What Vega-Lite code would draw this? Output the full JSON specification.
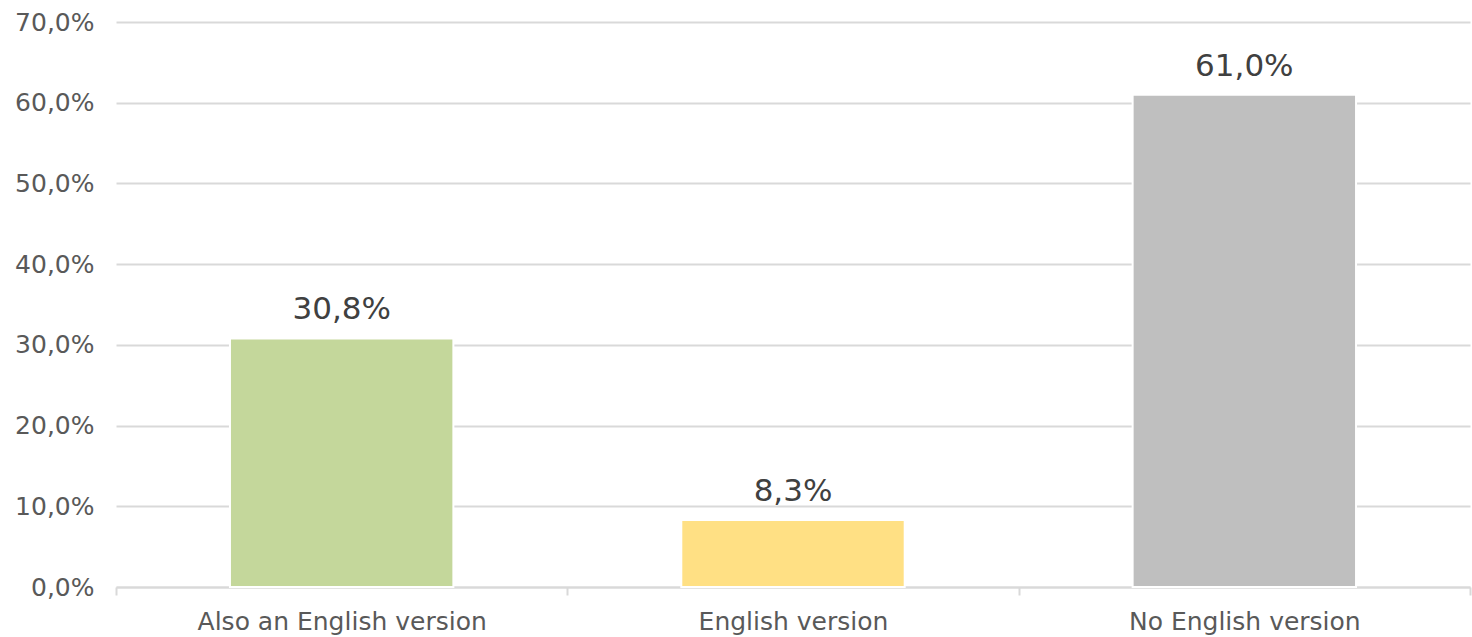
{
  "$schema": "https://vega.github.io/schema/vega-lite/v6.json",
  "width": 1354,
  "height": 565,
  "autosize": {"type": "none"},
  "padding": {"left": 116, "top": 22, "right": 2, "bottom": 50},
  "background": "white",
  "config": {
    "locale": {"number": {"decimal": ",", "thousands": ".", "grouping": [3], "currency": ["", " €"]}},
    "view": {"stroke": null},
    "font": "DejaVu Sans"
  },
  "data": {
    "values": [
      {"category": "Also an English version", "share": 0.308, "color": "#C4D79B"},
      {"category": "English version", "share": 0.083, "color": "#FFE084"},
      {"category": "No English version", "share": 0.61, "color": "#BFBFBF"}
    ]
  },
  "encoding": {
    "x": {
      "field": "category",
      "type": "nominal",
      "sort": null,
      "scale": {"paddingInner": 0, "paddingOuter": 0},
      "axis": {
        "title": null,
        "labelAngle": 0,
        "labelLimit": 0,
        "labelFont": "DejaVu Sans",
        "labelFontSize": 25,
        "labelColor": "#595959",
        "labelPadding": 14,
        "domainColor": "#D9D9D9",
        "domainWidth": 2,
        "tickColor": "#D9D9D9",
        "tickWidth": 2,
        "tickSize": 8,
        "tickBand": "extent",
        "grid": false
      }
    },
    "y": {
      "field": "share",
      "type": "quantitative",
      "scale": {"domain": [0, 0.7], "nice": false},
      "axis": {
        "title": null,
        "values": [0, 0.1, 0.2, 0.3, 0.4, 0.5, 0.6, 0.7],
        "format": ".1%",
        "labelFont": "DejaVu Sans",
        "labelFontSize": 25,
        "labelColor": "#595959",
        "labelPadding": 22,
        "ticks": false,
        "domain": false,
        "grid": true,
        "gridColor": "#D9D9D9",
        "gridWidth": 2
      }
    }
  },
  "layer": [
    {
      "mark": {"type": "bar", "width": {"band": 0.495}, "stroke": "white", "strokeWidth": 2},
      "encoding": {
        "color": {"field": "color", "type": "nominal", "scale": null, "legend": null}
      }
    },
    {
      "mark": {"type": "text", "baseline": "bottom", "dy": -12, "fontSize": 31, "color": "#404040", "font": "DejaVu Sans"},
      "encoding": {
        "text": {"field": "share", "type": "quantitative", "format": ".1%"}
      }
    }
  ]
}
